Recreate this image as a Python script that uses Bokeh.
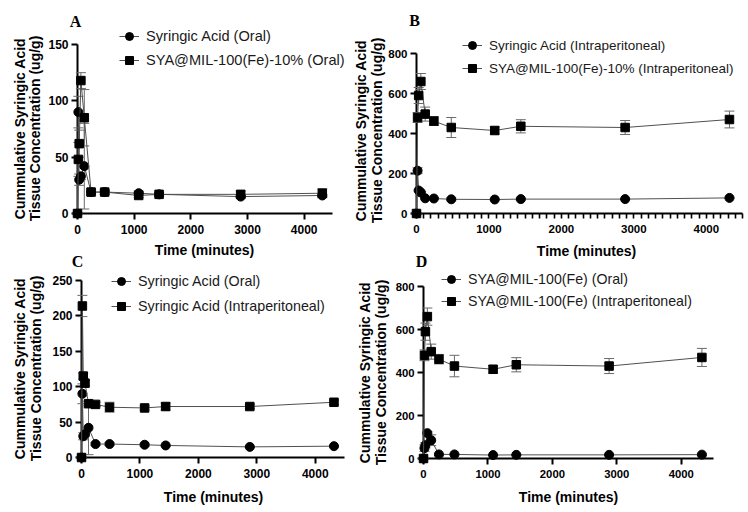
import math
from bokeh.plotting import figure
from bokeh.models import (Range1d, ColumnDataSource, Whisker, TeeHead, Legend,
                          LegendItem, Label, FixedTicker)
from bokeh.embed import file_html
from bokeh.resources import INLINE

# ---------------- data ----------------
time_min = [0, 15, 30, 60, 120, 240, 480, 1080, 1440, 2880, 4320]

sa_oral = [0, 90, 30, 33, 42, 19, 19, 18, 17, 15, 16]
sa_oral_sd = [0, 14, 5, 3, 38, 2, 2, 2, 1, 1, 1]

sya10_oral = [0, 48, 62, 118, 85, 19, 19, 16, 17, 17, 18]
sya10_oral_sd = [0, 15, 12, 7, 25, 3, 2, 2, 2, 3, 4]

sa_ip = [0, 214, 115, 105, 76, 75, 71, 70, 72, 72, 78]
sa_ip_sd = [0, 15, 4, 4, 3, 3, 7, 3, 5, 3, 3]

sya10_ip = [0, 480, 590, 660, 497, 462, 430, 415, 436, 430, 470]
sya10_ip_sd = [0, 25, 40, 40, 35, 22, 50, 18, 33, 35, 42]

sya_oral = [0, 48, 62, 118, 85, 19, 19, 16, 17, 17, 18]
sya_oral_sd = [0, 15, 12, 7, 25, 3, 2, 2, 2, 3, 4]

sya_ip = [0, 480, 590, 660, 497, 462, 430, 415, 436, 430, 470]
sya_ip_sd = [0, 25, 40, 40, 35, 22, 50, 18, 33, 35, 42]

x_max = 4500
x_ticks = [0, 1000, 2000, 3000, 4000]
x_fine_ticks = list(range(0, 4501, 100))
y_ticks_a = [0, 50, 100, 150]
y_ticks_b = [0, 200, 400, 600, 800]
y_ticks_c = [0, 50, 100, 150, 200, 250]
y_ticks_d = [0, 200, 400, 600, 800]

labels_a = ["Syringic Acid (Oral)", "SYA@MIL-100(Fe)-10% (Oral)"]
labels_b = ["Syringic Acid (Intraperitoneal)", "SYA@MIL-100(Fe)-10% (Intraperitoneal)"]
labels_c = ["Syringic Acid (Oral)", "Syringic Acid (Intraperitoneal)"]
labels_d = ["SYA@MIL-100(Fe) (Oral)", "SYA@MIL-100(Fe) (Intraperitoneal)"]

y_title = ["Cummulative Syringic Acid", "Tissue Concentration (ug/g)"]
x_title = "Time (minutes)"
letters = ["A", "B", "C", "D"]

FONT = "Liberation Sans"
SERIF = "Liberation Serif"
CW, CH = 748, 512
STACK = {"position": "absolute", "left": "0px", "top": "0px"}


def base_fig(L, T, W, H, xr, yr, axes=True):
    kw = {}
    if not axes:
        kw = dict(x_axis_location=None, y_axis_location=None)
    p = figure(width=CW, height=CH, output_backend="svg", toolbar_location=None,
               x_range=xr, y_range=yr, styles=STACK,
               min_border_left=L, min_border_top=T,
               min_border_right=CW - L - W, min_border_bottom=CH - T - H, **kw)
    p.grid.visible = False
    p.outline_line_color = None
    p.background_fill_color = None
    p.border_fill_color = None
    return p


def axis_fig(spec):
    L, T, W, H = spec["frame"]
    p = base_fig(L, T, W, H, Range1d(0, x_max), Range1d(0, spec["ymax"]))
    for ax in (p.xaxis[0], p.yaxis[0]):
        ax.axis_line_width = 2
        ax.axis_line_color = "black"
        ax.major_tick_line_width = 2
        ax.major_tick_line_color = "black"
        ax.major_tick_in = 0
        ax.major_tick_out = 6
        ax.minor_tick_line_alpha = 0
        ax.minor_tick_in = 0
        ax.minor_tick_out = 0
        ax.major_label_text_font = FONT
        ax.major_label_text_font_style = "bold"
        ax.major_label_text_color = "black"
        ax.major_label_text_font_size = spec["tick_fs"]
    p.xaxis[0].major_label_standoff = 5
    p.yaxis[0].major_label_standoff = 3
    p.yaxis[0].ticker = FixedTicker(ticks=spec["yticks"])
    if spec.get("minor"):
        # fine ticks every 100 min, labels only at the thousands
        p.xaxis[0].ticker = FixedTicker(ticks=x_fine_ticks)
        p.xaxis[0].major_label_overrides = {
            t: ("" if t not in x_ticks else str(t)) for t in x_fine_ticks}
        p.xaxis[0].major_tick_out = 5
        p.xaxis[0].major_tick_line_width = 1.6
        p.xaxis[0].major_label_standoff = 6
    else:
        p.xaxis[0].ticker = FixedTicker(ticks=x_ticks)
    return p


def glyph_fig(spec):
    L, T, W, H = spec["frame"]
    GL, GT, GW, GH = spec["gframe"]
    xs = W / x_max
    ys = H / spec["ymax"]
    xr = Range1d((GL - L) / xs, (GL + GW - L) / xs)
    yr = Range1d((T + H - (GT + GH)) / ys, (T + H - GT) / ys)
    p = base_fig(GL, GT, GW, GH, xr, yr, axes=False)

    items = []
    for (yv, sd, marker, msize), lab in zip(spec["series"], spec["labels"]):
        src = ColumnDataSource(dict(
            x=time_min, y=yv,
            upper=[a + b for a, b in zip(yv, sd)],
            lower=[a - b for a, b in zip(yv, sd)]))
        wk = Whisker(source=src, base="x", upper="upper", lower="lower",
                     level="underlay", line_color="#6a6a6a", line_width=1,
                     upper_head=TeeHead(size=10, line_color="#6a6a6a", line_width=1),
                     lower_head=TeeHead(size=10, line_color="#6a6a6a", line_width=1))
        p.add_layout(wk)
        lr = p.line("x", "y", source=src, line_color="#505050", line_width=1)
        mr = p.scatter("x", "y", source=src, marker=marker, size=msize,
                       fill_color="black", line_color="black")
        items.append(LegendItem(label=lab, renderers=[lr, mr]))

    lg = spec["legend"]
    lx = lg["x"] - GL
    ly = (GT + GH) - (lg["top"] + lg["height"])
    legend = Legend(items=items, location=(lx, ly), padding=0, margin=0,
                    spacing=lg["spacing"], glyph_width=20, glyph_height=20,
                    label_height=20, label_standoff=7,
                    border_line_alpha=0, background_fill_alpha=0,
                    label_text_font=FONT, label_text_font_size=lg["fs"],
                    label_text_color="#1a1a1a")
    p.add_layout(legend)
    return p


spec_a = dict(frame=(77, 44, 255, 169), gframe=(0, 0, 374, 256), ymax=150,
              yticks=y_ticks_a, tick_fs="12px",
              series=[(sa_oral, sa_oral_sd, "circle", 9),
                      (sya10_oral, sya10_oral_sd, "square", 8.5)],
              labels=labels_a,
              legend=dict(x=119, top=26, height=44, spacing=4, fs="14.6px"),
              ylab_x=(19, 34), ylab_y=128, xlab=(204, 249), letter=(75, 21))

spec_b = dict(frame=(416, 53, 326, 160), gframe=(374, 0, 374, 256), ymax=800,
              yticks=y_ticks_b, tick_fs="11.5px", minor=True,
              series=[(sa_ip, sa_ip_sd, "circle", 9),
                      (sya10_ip, sya10_ip_sd, "square", 8.5)],
              labels=labels_b,
              legend=dict(x=462, top=35, height=43, spacing=3, fs="13.5px"),
              ylab_x=(360, 376), ylab_y=130, xlab=(586, 250), letter=(414, 19.5))

spec_c = dict(frame=(81, 280, 263, 177), gframe=(0, 256, 374, 256), ymax=250,
              yticks=y_ticks_c, tick_fs="12px",
              series=[(sa_oral, sa_oral_sd, "circle", 9),
                      (sa_ip, sa_ip_sd, "square", 8.5)],
              labels=labels_c,
              legend=dict(x=111, top=271, height=45, spacing=5, fs="14.3px"),
              ylab_x=(19, 35), ylab_y=368, xlab=(213, 496), letter=(77, 261))

spec_d = dict(frame=(423, 286, 290, 172), gframe=(374, 256, 374, 256), ymax=800,
              yticks=y_ticks_d, tick_fs="11.3px",
              series=[(sya_oral, sya_oral_sd, "circle", 9),
                      (sya_ip, sya_ip_sd, "square", 8.5)],
              labels=labels_d,
              legend=dict(x=441, top=269, height=42, spacing=2, fs="14.2px"),
              ylab_x=(364, 380), ylab_y=372, xlab=(568, 496), letter=(421, 261))

specs = [spec_a, spec_b, spec_c, spec_d]

# text layer covering the whole canvas (canvas pixel coordinates)
pt = base_fig(0, 0, CW, CH, Range1d(0, CW), Range1d(CH, 0), axes=False)
for spec, letter in zip(specs, letters):
    for txt, cx in zip(y_title, spec["ylab_x"]):
        pt.add_layout(Label(x=cx, y=spec["ylab_y"], text=txt, angle=math.pi / 2,
                            text_align="center", text_baseline="middle",
                            text_font=FONT, text_font_style="bold",
                            text_font_size="14px", text_color="black"))
    pt.add_layout(Label(x=spec["xlab"][0], y=spec["xlab"][1], text=x_title,
                        text_align="center", text_baseline="middle",
                        text_font=FONT, text_font_style="bold",
                        text_font_size="14px", text_color="black"))
    pt.add_layout(Label(x=spec["letter"][0], y=spec["letter"][1], text=letter,
                        text_align="center", text_baseline="alphabetic",
                        text_font=SERIF, text_font_style="bold",
                        text_font_size="16px", text_color="black"))

figs = [axis_fig(s) for s in specs] + [glyph_fig(s) for s in specs] + [pt]

# each layer is its own root, all stacked at the page's top-left corner
open("out.html", "w").write(file_html(figs, INLINE))
